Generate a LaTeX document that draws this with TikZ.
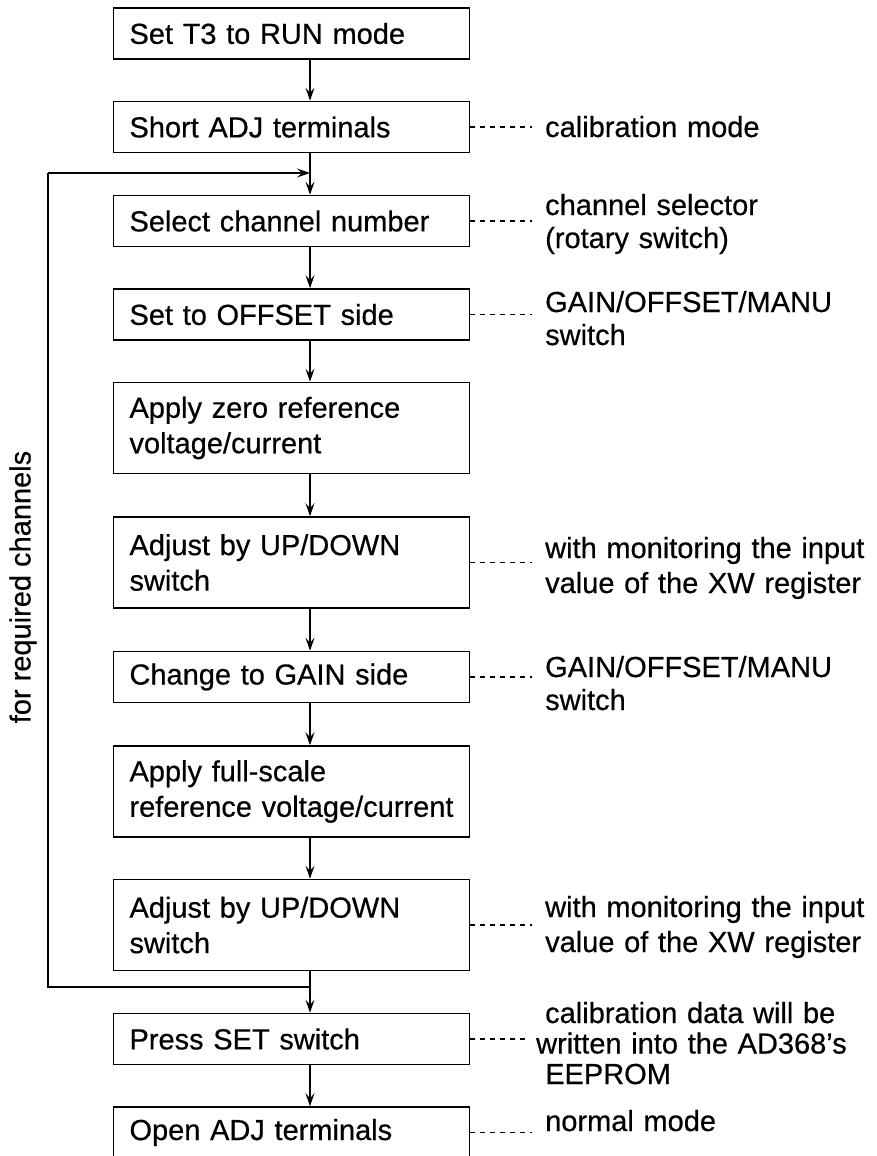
\documentclass[tikz,border=0pt]{standalone}
\usepackage{fontspec}
\setmainfont{Liberation Sans}[FakeBold=0.5]
\usetikzlibrary{arrows.meta,calc}
\begin{document}
\begin{tikzpicture}[x=1pt,y=-1pt,
  stepbox/.style={draw,line width=1.6pt,rectangle,minimum width=356pt,text width=324pt,
    inner xsep=16pt,inner ysep=0pt,align=left,font=\fontsize{29}{35.5}\selectfont},
  one/.style={minimum height=51pt},
  two/.style={minimum height=91pt},
  flow/.style={line width=1.3pt,-{Stealth[length=13pt,width=9pt,inset=5pt]}},
  link/.style={line width=1.3pt},
  note/.style={anchor=base west,inner sep=0pt,text width=330pt,align=left,
    font=\fontsize{29}{33}\selectfont},
  notelink/.style={line width=1.2pt,dash pattern=on 5pt off 5pt,shorten >=13pt}]
\useasboundingbox (0,0) rectangle (877,1156);

% process boxes
\node[stepbox,one] (b1) at (291.5,33.5) {Set T3 to RUN mode};
\node[stepbox,one] (b2) at (291.5,127) {Short ADJ terminals};
\node[stepbox,one] (b3) at (291.5,221) {Select channel number};
\node[stepbox,one] (b4) at (291.5,314.5) {Set to OFFSET side};
\node[stepbox,two] (b5) at (291.5,428) {Apply zero reference\\voltage/current};
\node[stepbox,two] (b6) at (291.5,562.5) {Adjust by UP/DOWN\\switch};
\node[stepbox,one] (b7) at (291.5,677) {Change to GAIN side};
\node[stepbox,two] (b8) at (291.5,791.5) {Apply full-scale\\\mbox{reference voltage/current}};
\node[stepbox,two] (b9) at (291.5,925) {Adjust by UP/DOWN\\switch};
\node[stepbox,one] (b10) at (291.5,1039) {Press SET switch};
\node[stepbox,one] (b11) at (291.5,1132.5) {Open ADJ terminals};

% flow column
\coordinate (col) at (310,0);
\draw[flow] (b1.south -| col) -- (b2.north -| col);
\draw[flow] (b2.south -| col) -- (b3.north -| col);
\draw[flow] (b3.south -| col) -- (b4.north -| col);
\draw[flow] (b4.south -| col) -- (b5.north -| col);
\draw[flow] (b5.south -| col) -- (b6.north -| col);
\draw[flow] (b6.south -| col) -- (b7.north -| col);
\draw[flow] (b7.south -| col) -- (b8.north -| col);
\draw[flow] (b8.south -| col) -- (b9.north -| col);
\draw[flow] (b9.south -| col) -- (b10.north -| col);
\draw[flow] (b10.south -| col) -- (b11.north -| col);

% loop for required channels
\coordinate (jin) at (310,173);
\coordinate (jout) at (310,987);
\coordinate (lt) at (48,173);
\coordinate (lb) at (48,987);
\draw[link] (jout) -- (lb) -- (lt);
\draw[flow] (lt) -- (jin);
\node[rotate=90,inner sep=0pt,font=\fontsize{29}{33}\selectfont] (lab) at (23,587) {for required channels};

% notes
\node[note] (n2) at (545,137) {calibration mode};
\node[note] (n3) at (545,215) {channel selector\\(rotary switch)};
\node[note] (n4) at (545,312) {GAIN/OFFSET/MANU\\switch};
\node[note,font=\fontsize{29}{35}\selectfont] (n6) at (545,558) {with monitoring the input\\value of the XW register};
\node[note] (n7) at (545,677) {GAIN/OFFSET/MANU\\switch};
\node[note,font=\fontsize{29}{35}\selectfont] (n9) at (545,917) {with monitoring the input\\value of the XW register};
\node[note,font=\fontsize{29}{30.5}\selectfont] (n10) at (545,1023) {calibration data will be\\\hspace*{-9pt}written into the AD368's\\EEPROM};
\node[note] (n11) at (545,1131) {normal mode};

\draw[notelink] (b2.east) -- (b2.east -| n2.west);
\draw[notelink] (b3.east) -- (b3.east -| n3.west);
\draw[notelink] (b4.east) -- (b4.east -| n4.west);
\draw[notelink] (b6.east) -- (b6.east -| n6.west);
\draw[notelink] (b7.east) -- (b7.east -| n7.west);
\draw[notelink] (b9.east) -- (b9.east -| n9.west);
\draw[notelink,shorten >=18pt] (b10.east) -- (b10.east -| n10.west);
\draw[notelink] (b11.east) -- (b11.east -| n11.west);
\end{tikzpicture}
\end{document}
